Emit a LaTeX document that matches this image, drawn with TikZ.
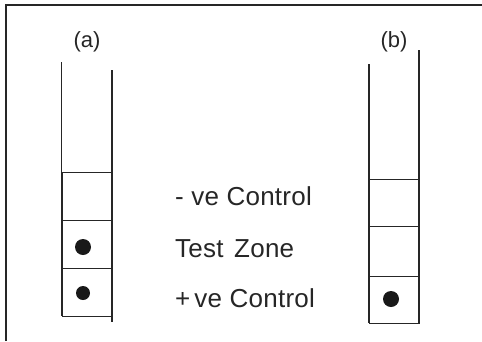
\documentclass[tikz,border=0pt]{standalone}
\usepackage{fontspec}
\setmainfont{Liberation Sans}
\newfontfamily\lblfont[LetterSpace=1]{Liberation Sans}
\begin{document}
\begin{tikzpicture}[x=1pt,y=-1pt,
  frame/.style={draw=black!85,line width=1.4pt},
  side/.style={draw=black!85,line width=1.5pt},
  cell/.style={draw=black!85,line width=1.1pt,rectangle,inner sep=0pt,anchor=north west},
  spot/.style={circle,fill=black!90,inner sep=0pt,minimum size=#1},
  zone/.style={anchor=base west,inner sep=0pt,font=\lblfont\fontsize{26}{30}\selectfont,text=black!85},
  tag/.style={anchor=base,inner sep=0pt,font=\fontsize{22}{26}\selectfont,text=black!85}]
\useasboundingbox (0,0) rectangle (482,341);
% frame
\coordinate (fl) at (6,341);
\coordinate (fc) at (6,5);
\coordinate (fr) at (482,5);
\draw[frame] (fl) -- (fc) -- (fr);
% labels
\node[tag] (la) at (87,47) {(a)};
\node[tag] (lb) at (394,47) {(b)};
% strip (a)
\node[cell,minimum width=49pt,minimum height=48pt] (a1) at (62,172) {};
\node[cell,minimum width=49pt,minimum height=48pt] (a2) at (62,220) {};
\node[cell,minimum width=49pt,minimum height=48pt] (a3) at (62,268) {};
\coordinate (alt) at (61.5,62);
\coordinate (alb) at (61.5,316);
\coordinate (art) at (112,70);
\coordinate (arb) at (112,322);
\draw[side] (alt) -- (alb);
\draw[side,line width=2.2pt] (art) -- (arb);
\node[spot=16pt] (d1) at (83,247) {};
\node[spot=14pt] (d2) at (83,293) {};
% strip (b)
\node[cell,minimum width=50pt,minimum height=47pt] (b1) at (369,179) {};
\node[cell,minimum width=50pt,minimum height=50pt] (b2) at (369,226) {};
\node[cell,minimum width=50pt,minimum height=47pt] (b3) at (369,276) {};
\coordinate (blt) at (369,64);
\coordinate (blb) at (369,323);
\coordinate (brt) at (419,50);
\coordinate (brb) at (419,323);
\draw[side] (blt) -- (blb);
\draw[side] (brt) -- (brb);
\node[spot=16pt] (d3) at (391,299) {};
% zone texts
\node[zone] (t1) at (175,205) {- ve Control};
\node[zone] (t2) at (175,257) {Test\kern3pt\ Zone};
\node[zone] (t3) at (175,307) {+\kern4pt ve Control};
\end{tikzpicture}
\end{document}
